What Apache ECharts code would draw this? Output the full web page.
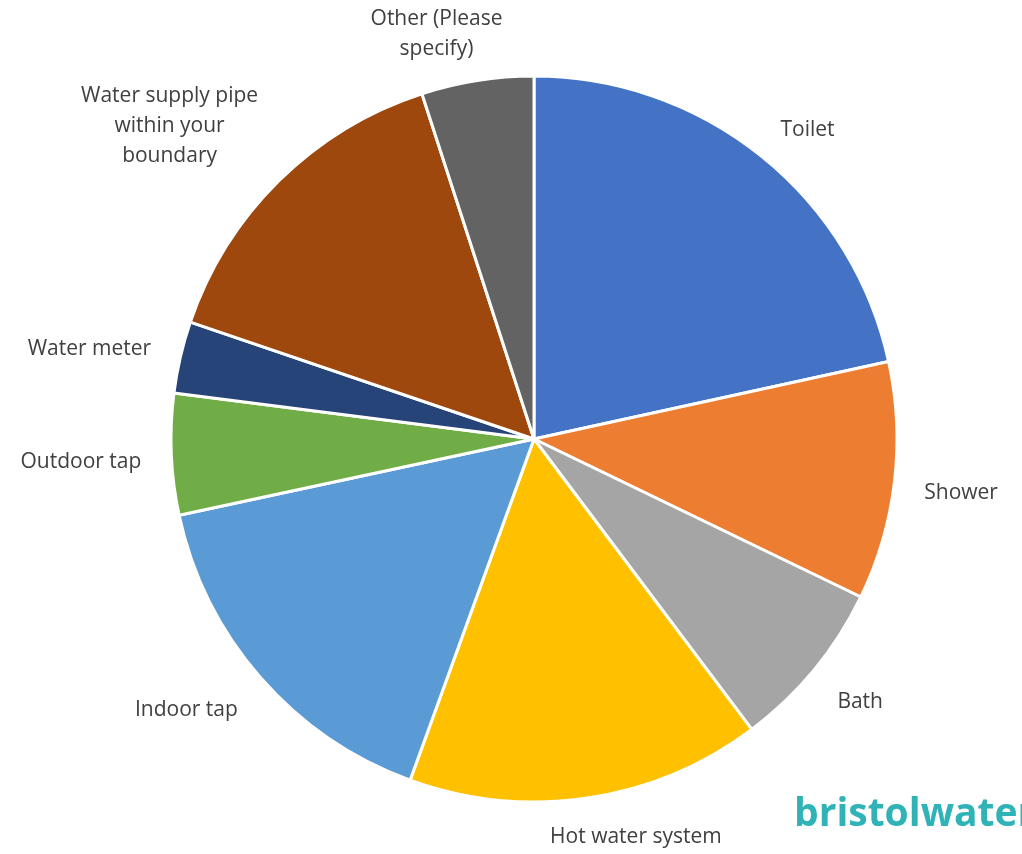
<!DOCTYPE html>
<html>
<head>
<meta charset="utf-8">
<script src="https://cdn.jsdelivr.net/npm/echarts@6/dist/echarts.min.js"></script>
<style>
  html, body { margin: 0; padding: 0; background: #ffffff; }
  #chart { width: 1022px; height: 854px; }
</style>
</head>
<body>
<div id="chart"></div>
<script>
// Where leaks were found (share of reports, %)
const categories = [
  'Toilet',
  'Shower',
  'Bath',
  'Hot water system',
  'Indoor tap',
  'Outdoor tap',
  'Water meter',
  'Water supply pipe\nwithin your\nboundary',
  'Other (Please\nspecify)'
];
const values = [21.6, 10.6, 7.6, 15.8, 16.1, 5.4, 3.2, 14.8, 5.0];
const colors = ['#4472C4', '#ED7D31', '#A5A5A5', '#FFC000', '#5B9BD5', '#70AD47', '#264478', '#9E480E', '#636363'];

const W = 1022, H = 854;
const CX = 534, CY = 439, R = 363;
const ANCHOR = R + 30;   // labels hang off a ring just outside the pie

// mid-angle of each slice, clockwise from 12 o'clock (radians)
const total = values.reduce((a, b) => a + b, 0);
const midAngles = [];
let acc = 0;
values.forEach(v => {
  midAngles.push(((acc + v / 2) / total) * Math.PI * 2);
  acc += v;
});

const clamp1 = v => Math.max(-1, Math.min(1, v));

const chart = echarts.init(document.getElementById('chart'), null, { renderer: 'canvas' });

chart.setOption({
  animation: false,
  backgroundColor: '#ffffff',
  graphic: [{
    type: 'text',
    left: 794,
    top: 795,
    style: {
      text: 'bristolwater',
      fill: '#2FB3B6',
      font: 'bold 39px "Open Sans", sans-serif'
    }
  }],
  series: [{
    type: 'pie',
    center: [CX, CY],
    radius: [0, R],
    startAngle: 90,
    clockwise: true,
    avoidLabelOverlap: false,
    itemStyle: { borderColor: '#ffffff', borderWidth: 3 },
    label: {
      show: true,
      position: 'outside',
      color: '#404040',
      fontSize: 21,
      fontFamily: '"Open Sans", sans-serif',
      lineHeight: 30,
      align: 'center',
      formatter: '{b}'
    },
    labelLine: { show: false },
    labelLayout: function (p) {
      const a = midAngles[p.dataIndex];
      const ux = Math.sin(a), uy = -Math.cos(a);
      const w = p.labelRect.width, h = p.labelRect.height - 8;
      // box hangs off the anchor point, sliding from edge-centred to corner
      const fx = clamp1(3.5 * ux), fy = clamp1(3.5 * uy);
      let x = CX + ux * ANCHOR + fx * w / 2;
      let y = CY + 5 + uy * ANCHOR + fy * (h - 6) / 2;
      y = Math.min(y, H - h / 2 - 6);
      y = Math.max(y, h / 2 + 8);
      return { x: x, y: y, align: 'center', verticalAlign: 'middle' };
    },
    data: categories.map((name, i) => ({
      name: name,
      value: values[i],
      itemStyle: { color: colors[i] }
    }))
  }]
});
</script>
</body>
</html>
